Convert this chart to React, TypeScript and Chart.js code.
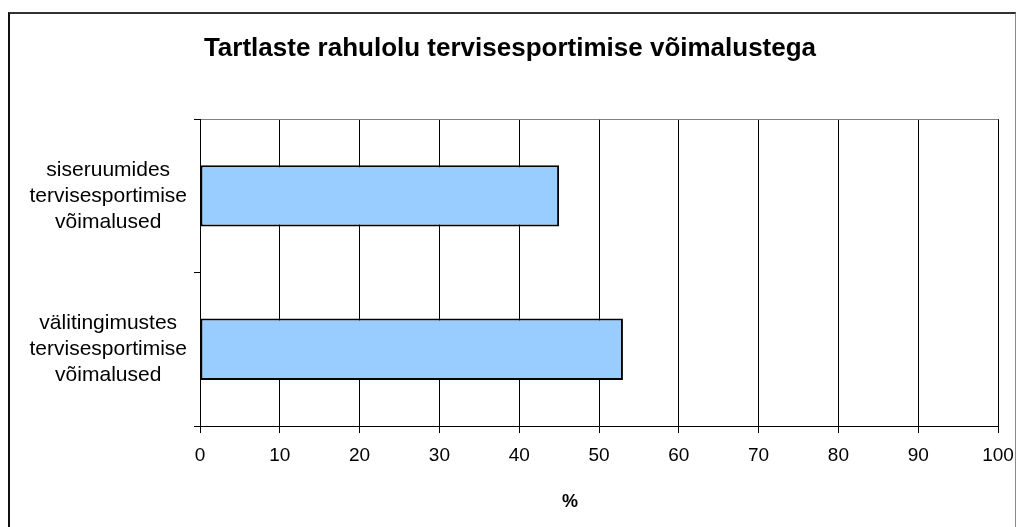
import React, { useEffect, useRef } from "react";
import { Chart, registerables } from "chart.js";

Chart.register(...registerables);

const TITLE = "Tartlaste rahulolu tervisesportimise võimalustega";
const categories: string[][] = [
  ["siseruumides", "tervisesportimise", "võimalused"],
  ["välitingimustes", "tervisesportimise", "võimalused"],
];
const values: number[] = [45, 53];
const xMin = 0;
const xMax = 100;
const xStep = 10;
const xAxisTitle = "%";

const FONT = '"Liberation Sans", Arial, Helvetica, sans-serif';

const pctPlugin = {
  id: "pctTitle",
  afterDraw(chart: any) {
    const ctx = chart.ctx;
    ctx.save();
    ctx.font = `bold 18px ${FONT}`;
    ctx.fillStyle = "#000";
    ctx.textAlign = "center";
    ctx.textBaseline = "middle";
    ctx.fillText(xAxisTitle, 570, 502);
    ctx.restore();
  },
};

export default function App() {
  const ref = useRef<HTMLCanvasElement | null>(null);

  useEffect(() => {
    if (!ref.current) return;
    const chart = new Chart(ref.current, {
      type: "bar",
      data: {
        labels: categories as any,
        datasets: [
          {
            data: values,
            backgroundColor: "#99CCFF",
            borderColor: "#000",
            borderWidth: 2,
            borderSkipped: false,
            barPercentage: 0.4,
            categoryPercentage: 1,
          },
        ],
      },
      options: {
        indexAxis: "y",
        responsive: false,
        animation: false,
        layout: { padding: { left: 22, right: 18, top: 0, bottom: 0 } },
        plugins: {
          legend: { display: false },
          tooltip: { enabled: false },
          title: {
            display: true,
            text: TITLE,
            color: "#000",
            font: { family: FONT, size: 26, weight: "bold", lineHeight: 1.2 },
            padding: { top: 33, bottom: 55 },
          },
        },
        scales: {
          x: {
            min: xMin,
            max: xMax,
            ticks: {
              stepSize: xStep,
              color: "#000",
              font: { family: FONT, size: 19 },
              padding: 11,
              maxRotation: 0,
              autoSkip: false,
            },
            grid: { color: "#000", lineWidth: 1, tickLength: 7, drawTicks: true },
            border: { color: "#000", width: 1 },
            afterFit: (s: any) => {
              s.height = 101;
              s.paddingLeft = 0;
              s.paddingRight = 0;
            },
          },
          y: {
            ticks: {
              color: "#000",
              font: { family: FONT, size: 21, lineHeight: 26 / 21 },
              padding: 7,
              crossAlign: "center",
            },
            grid: {
              offset: true,
              color: (c: any) => (c.index === 1 ? "rgba(0,0,0,0)" : "#808080"),
              tickColor: "#000",
              tickLength: 6,
            },
            border: { color: "#000", width: 1 },
            afterFit: (s: any) => {
              s.width = 178;
              s.paddingTop = 0;
              s.paddingBottom = 0;
            },
          },
        },
      } as any,
      plugins: [pctPlugin],
    });
    return () => chart.destroy();
  }, []);

  return (
    <div
      style={{
        position: "fixed",
        left: 0,
        top: 0,
        width: 1016,
        height: 527,
        overflow: "hidden",
        background: "#fff",
      }}
    >
      <div
        style={{
          position: "absolute",
          left: 8,
          top: 12,
          width: 1008,
          height: 600,
          boxSizing: "border-box",
          borderLeft: "2px solid #111",
          borderTop: "2px solid #333",
          borderRight: "1px solid #888",
        }}
      />
      <canvas
        ref={ref}
        width={1016}
        height={527}
        style={{ position: "absolute", left: 0, top: 0, width: 1016, height: 527 }}
      />
    </div>
  );
}
